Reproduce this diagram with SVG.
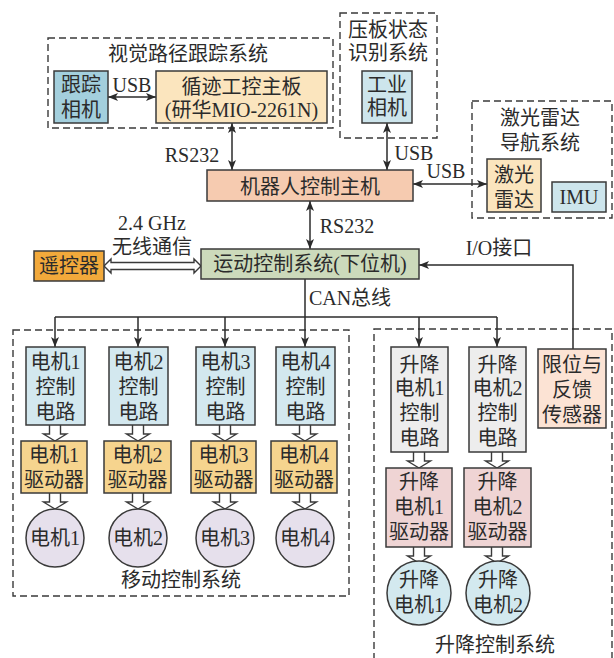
<svg xmlns="http://www.w3.org/2000/svg" width="614" height="658" viewBox="0 0 614 658">
<defs>
<style>
text{font-family:"Liberation Serif","Noto Sans CJK SC",serif;font-size:20px;fill:#2b2b2b;text-anchor:middle}
.box{stroke:#3a3a3a;stroke-width:1.5}
.dash{fill:none;stroke:#3a3a3a;stroke-width:1.4;stroke-dasharray:7,4}
.ln{fill:none;stroke:#2b2b2b;stroke-width:1.5}
.hol{fill:#fff;stroke:#3a3a3a;stroke-width:1.4}
</style>
<marker id="ah" viewBox="0 0 10 8" refX="10" refY="4" markerWidth="10" markerHeight="8" markerUnits="userSpaceOnUse" orient="auto-start-reverse">
<path d="M0,0 L10,4 L0,8 L2.5,4 Z" fill="#2b2b2b"/>
</marker>
<path id="ha" d="M-5.5,0 V9 H-11.5 L0,16 L11.5,9 H5.5 V0"/>
</defs>
<rect width="614" height="658" fill="#fff"/>

<!-- dashed groups -->
<g id="groups">
<rect class="dash" x="48" y="38" width="285" height="90"/>
<rect class="dash" x="340" y="13" width="97" height="125"/>
<rect class="dash" x="472" y="101" width="140" height="117"/>
<rect class="dash" x="13" y="330" width="336" height="266"/>
<rect class="dash" x="374" y="329" width="238" height="340"/>
<text x="188" y="61">视觉路径跟踪系统</text>
<text x="388" y="37">压板状态</text>
<text x="388" y="60">识别系统</text>
<text x="540" y="125">激光雷达</text>
<text x="540" y="150">导航系统</text>
<text x="181" y="587">移动控制系统</text>
<text x="495" y="652">升降控制系统</text>
</g>

<!-- connectors -->
<g id="connectors">
<line class="ln" x1="108" y1="97" x2="156" y2="97" marker-start="url(#ah)" marker-end="url(#ah)"/>
<line class="ln" x1="232" y1="123" x2="232" y2="170" marker-start="url(#ah)" marker-end="url(#ah)"/>
<line class="ln" x1="387" y1="123" x2="387" y2="170" marker-start="url(#ah)" marker-end="url(#ah)"/>
<line class="ln" x1="413" y1="184" x2="487" y2="184" marker-start="url(#ah)" marker-end="url(#ah)"/>
<line class="ln" x1="310" y1="201" x2="310" y2="249" marker-start="url(#ah)" marker-end="url(#ah)"/>
<path class="ln" d="M573,349 V265 H419" marker-end="url(#ah)"/>
<path class="hol" d="M104,266 L111,259 V262.5 H194 V259 L201,266 L194,273 V269.5 H111 V273 Z"/>
<path class="ln" d="M305,279 V317"/>
<path class="ln" d="M55,317 H497"/>
<line class="ln" x1="55" y1="317" x2="55" y2="347" marker-end="url(#ah)"/>
<line class="ln" x1="138" y1="317" x2="138" y2="347" marker-end="url(#ah)"/>
<line class="ln" x1="225" y1="317" x2="225" y2="347" marker-end="url(#ah)"/>
<line class="ln" x1="305" y1="317" x2="305" y2="347" marker-end="url(#ah)"/>
<line class="ln" x1="419" y1="317" x2="419" y2="347" marker-end="url(#ah)"/>
<line class="ln" x1="497" y1="317" x2="497" y2="347" marker-end="url(#ah)"/>
<use href="#ha" class="hol" x="55" y="425"/>
<use href="#ha" class="hol" x="138" y="425"/>
<use href="#ha" class="hol" x="225" y="425"/>
<use href="#ha" class="hol" x="305" y="425"/>
<use href="#ha" class="hol" x="55" y="493"/>
<use href="#ha" class="hol" x="138" y="493"/>
<use href="#ha" class="hol" x="225" y="493"/>
<use href="#ha" class="hol" x="305" y="493"/>
<use href="#ha" class="hol" x="419" y="452"/>
<use href="#ha" class="hol" x="497" y="452"/>
<use href="#ha" class="hol" x="419" y="547"/>
<use href="#ha" class="hol" x="497" y="547"/>
<text x="132" y="92">USB</text>
<text x="192" y="162">RS232</text>
<text x="414" y="160">USB</text>
<text x="446" y="178">USB</text>
<text x="347" y="233">RS232</text>
<text x="152" y="230">2.4 GHz</text>
<text x="152" y="254">无线通信</text>
<text x="499" y="255">I/O接口</text>
<text x="350" y="305">CAN总线</text>
</g>

<!-- nodes -->
<g id="tracking-camera"><rect class="box" x="54" y="71" width="54" height="52" fill="#A3CFDD"/><text x="81" y="92">跟踪</text><text x="81" y="117">相机</text></g>
<g id="main-board"><rect class="box" x="156" y="71" width="171" height="52" fill="#FBE5BE"/><text x="241.5" y="94">循迹工控主板</text><text x="241.5" y="117">(研华MIO-2261N)</text></g>
<g id="industrial-camera"><rect class="box" x="362" y="71" width="50" height="52" fill="#CDE5EC"/><text x="387" y="92">工业</text><text x="387" y="115">相机</text></g>
<g id="lidar"><rect class="box" x="487" y="159" width="54" height="53" fill="#FBE5BE"/><text x="514" y="182">激光</text><text x="514" y="207">雷达</text></g>
<g id="imu"><rect class="box" x="552" y="182" width="54" height="30" fill="#CDE5EC"/><text x="579" y="204">IMU</text></g>
<g id="host"><rect class="box" x="207" y="170" width="206" height="31" fill="#F6CBB0"/><text x="310" y="194">机器人控制主机</text></g>
<g id="motion-control"><rect class="box" x="201" y="249" width="218" height="30" fill="#CCDABB"/><text x="310" y="271">运动控制系统(下位机)</text></g>
<g id="remote"><rect class="box" x="34" y="251" width="70" height="30" fill="#F2A93B"/><text x="69" y="273">遥控器</text></g>

<g id="motor1-ctrl"><rect class="box" x="26" y="347" width="59" height="78" fill="#D3E8EF"/><text x="55.5" y="369">电机1</text><text x="55.5" y="394">控制</text><text x="55.5" y="419">电路</text></g>
<g id="motor2-ctrl"><rect class="box" x="109" y="347" width="59" height="78" fill="#D3E8EF"/><text x="138.5" y="369">电机2</text><text x="138.5" y="394">控制</text><text x="138.5" y="419">电路</text></g>
<g id="motor3-ctrl"><rect class="box" x="196" y="347" width="59" height="78" fill="#D3E8EF"/><text x="225.5" y="369">电机3</text><text x="225.5" y="394">控制</text><text x="225.5" y="419">电路</text></g>
<g id="motor4-ctrl"><rect class="box" x="276" y="347" width="59" height="78" fill="#D3E8EF"/><text x="305.5" y="369">电机4</text><text x="305.5" y="394">控制</text><text x="305.5" y="419">电路</text></g>

<g id="motor1-drv"><rect class="box" x="21" y="441" width="66" height="52" fill="#F6D48E"/><text x="54" y="462">电机1</text><text x="54" y="487">驱动器</text></g>
<g id="motor2-drv"><rect class="box" x="104" y="441" width="67" height="52" fill="#F6D48E"/><text x="137.5" y="462">电机2</text><text x="137.5" y="487">驱动器</text></g>
<g id="motor3-drv"><rect class="box" x="191" y="441" width="65" height="52" fill="#F6D48E"/><text x="223.5" y="462">电机3</text><text x="223.5" y="487">驱动器</text></g>
<g id="motor4-drv"><rect class="box" x="271" y="441" width="66" height="52" fill="#F6D48E"/><text x="304" y="462">电机4</text><text x="304" y="487">驱动器</text></g>

<g id="motor1"><circle class="box" cx="55" cy="538" r="29" fill="#E6E0EC"/><text x="55" y="545">电机1</text></g>
<g id="motor2"><circle class="box" cx="138" cy="538" r="29" fill="#E6E0EC"/><text x="138" y="545">电机2</text></g>
<g id="motor3"><circle class="box" cx="225" cy="538" r="29" fill="#E6E0EC"/><text x="225" y="545">电机3</text></g>
<g id="motor4"><circle class="box" cx="305" cy="538" r="29" fill="#E6E0EC"/><text x="305" y="545">电机4</text></g>

<g id="lift1-ctrl"><rect class="box" x="391" y="347" width="57" height="105" fill="#EDEDED"/><text x="419.5" y="372">升降</text><text x="419.5" y="395">电机1</text><text x="419.5" y="420">控制</text><text x="419.5" y="445">电路</text></g>
<g id="lift2-ctrl"><rect class="box" x="469" y="347" width="57" height="105" fill="#EDEDED"/><text x="497.5" y="372">升降</text><text x="497.5" y="395">电机2</text><text x="497.5" y="420">控制</text><text x="497.5" y="445">电路</text></g>
<g id="sensor"><rect class="box" x="538" y="349" width="68" height="79" fill="#FCE3D4"/><text x="572" y="372">限位与</text><text x="572" y="397">反馈</text><text x="572" y="422">传感器</text></g>
<g id="lift1-drv"><rect class="box" x="386" y="468" width="66" height="79" fill="#EFD4D4"/><text x="419" y="489">升降</text><text x="419" y="514">电机1</text><text x="419" y="539">驱动器</text></g>
<g id="lift2-drv"><rect class="box" x="464" y="468" width="67" height="79" fill="#EFD4D4"/><text x="497.5" y="489">升降</text><text x="497.5" y="514">电机2</text><text x="497.5" y="539">驱动器</text></g>
<g id="lift1"><circle class="box" cx="419" cy="593" r="32" fill="#D3E9EF"/><text x="419" y="587">升降</text><text x="419" y="612">电机1</text></g>
<g id="lift2"><circle class="box" cx="498" cy="593" r="32" fill="#D3E9EF"/><text x="498" y="587">升降</text><text x="498" y="612">电机2</text></g>
</svg>
